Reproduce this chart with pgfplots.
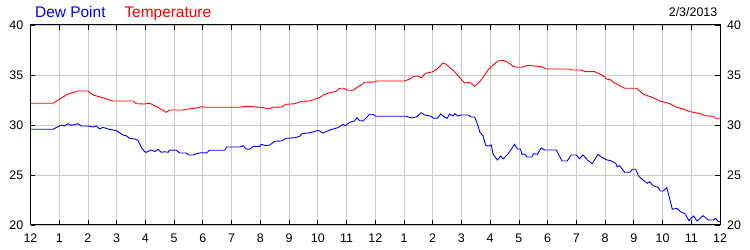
\documentclass[border=0pt]{standalone}
\usepackage{fontspec}
\setmainfont{Liberation Sans}
\usepackage{pgfplots}
\pgfplotsset{compat=1.18}
\definecolor{gridgray}{RGB}{204,204,204}
\definecolor{dewblue}{RGB}{0,0,255}
\definecolor{tempred}{RGB}{255,0,0}
\begin{document}
\begin{tikzpicture}
\begin{axis}[
  name=main,
  scale only axis,
  width=689.5bp, height=200bp,
  xmin=0, xmax=24, ymin=20, ymax=40,
  xtick={0,1,...,24},
  xticklabels={12,1,2,3,4,5,6,7,8,9,10,11,12,1,2,3,4,5,6,7,8,9,10,11,12},
  ytick={20,25,30,35,40},
  xtick pos=both, ytick pos=both,
  xticklabel pos=lower, yticklabel pos=left,
  tick align=inside,
  major tick length=5bp,
  tick style={black, line width=0.8bp},
  grid=major,
  major grid style={gridgray, line width=0.8bp},
  axis line style={black, line width=1bp},
  ticklabel style={font=\fontsize{12.5}{14}\selectfont},
  /pgf/number format/assume math mode=true,
  yticklabel style={inner sep=0pt, xshift=-7bp},
  xticklabel style={inner sep=0pt, yshift=-9bp},
  clip=true,
]
\addplot[tempred, line width=0.9bp] table {
0 32.17
0.78 32.17
0.96 32.5
1.31 33.1
1.65 33.4
2.0 33.4
2.18 33.0
2.58 32.67
2.87 32.4
3.57 32.4
3.68 32.13
3.97 32.1
4.15 32.17
4.32 31.93
4.55 31.57
4.73 31.27
4.84 31.5
5.31 31.5
5.48 31.6
5.71 31.67
5.95 31.83
6.12 31.77
7.28 31.77
7.40 31.83
7.74 31.83
7.98 31.77
8.09 31.73
8.27 31.6
8.44 31.77
8.73 31.8
8.90 32.07
9.20 32.13
9.43 32.37
9.72 32.4
9.89 32.57
10.07 32.77
10.24 33.07
10.41 33.23
10.64 33.37
10.76 33.67
10.91 33.67
11.03 33.47
11.23 33.47
11.40 33.83
11.57 34.1
11.61 34.27
11.98 34.3
12.04 34.4
13.02 34.4
13.20 34.6
13.34 34.87
13.51 34.87
13.60 34.73
13.75 35.17
14.01 35.33
14.18 35.67
14.36 36.2
14.47 36.07
14.65 35.6
14.76 35.33
14.94 34.73
15.11 34.2
15.29 34.27
15.46 33.87
15.64 34.33
15.81 35.0
15.92 35.5
16.0 35.7
16.10 36.0
16.27 36.4
16.45 36.47
16.62 36.27
16.79 35.87
16.91 35.77
17.08 35.77
17.32 35.97
17.55 35.9
17.78 35.83
17.95 35.6
18.77 35.6
18.82 35.5
19.17 35.5
19.29 35.33
19.64 35.33
19.81 35.1
19.99 34.83
20.04 34.6
20.18 34.53
20.33 34.2
20.51 33.93
20.68 33.67
21.09 33.67
21.20 33.4
21.34 33.07
21.67 32.73
21.90 32.4
22.13 32.23
22.30 32.07
22.46 31.8
22.71 31.6
22.97 31.33
23.35 31.1
23.47 30.93
23.76 30.87
23.85 30.67
24.0 30.67
};
\addplot[dewblue, line width=0.9bp] table {
0 29.57
0.78 29.57
0.96 29.83
1.07 30.0
1.19 29.9
1.31 30.13
1.42 29.97
1.65 30.13
1.77 29.9
2.0 29.9
2.18 29.8
2.29 29.9
2.41 29.6
2.52 29.77
2.70 29.6
2.99 29.43
3.10 29.23
3.22 29.0
3.33 28.93
3.45 28.67
3.63 28.6
3.74 28.47
3.86 27.73
3.97 27.33
4.03 27.27
4.21 27.5
4.32 27.33
4.44 27.57
4.55 27.27
4.67 27.33
4.79 27.27
4.84 27.5
5.08 27.47
5.19 27.2
5.42 27.2
5.51 27.0
5.66 27.0
5.77 27.13
5.95 27.23
6.12 27.2
6.24 27.47
6.76 27.47
6.82 27.8
7.28 27.8
7.40 27.93
7.51 27.6
7.63 27.57
7.74 27.83
7.86 27.87
7.98 27.85
8.03 28.07
8.21 27.93
8.33 28.0
8.50 28.37
8.73 28.4
8.90 28.67
9.20 28.73
9.37 28.87
9.45 29.13
9.66 29.2
9.83 29.3
10.01 29.47
10.18 29.2
10.36 29.43
10.53 29.6
10.70 29.73
10.88 30.07
10.96 29.93
11.11 30.27
11.28 30.4
11.36 30.73
11.46 30.43
11.57 30.4
11.69 30.73
11.81 31.07
11.92 31.07
12.02 30.87
13.08 30.87
13.25 30.7
13.43 30.8
13.60 31.23
13.72 31.0
13.95 30.87
14.01 30.7
14.16 30.67
14.28 31.1
14.42 30.77
14.50 30.67
14.59 31.1
14.71 30.9
14.76 31.13
14.88 30.9
14.99 31.0
15.23 31.0
15.34 30.8
15.46 30.8
15.58 29.9
15.64 29.27
15.75 28.93
15.84 28.0
15.90 27.9
15.98 27.93
16.04 28.0
16.10 27.1
16.25 26.5
16.37 26.9
16.45 26.6
16.62 27.1
16.85 28.07
16.94 27.6
17.05 27.6
17.11 27.07
17.20 27.1
17.29 26.8
17.45 26.8
17.51 27.13
17.64 27.07
17.78 27.7
17.90 27.5
18.30 27.5
18.50 26.4
18.68 26.4
18.82 27.0
19.0 27.0
19.11 26.63
19.23 27.0
19.40 26.47
19.55 26.13
19.75 27.07
19.92 26.7
19.99 26.6
20.04 26.53
20.22 26.4
20.37 26.17
20.42 25.83
20.51 25.93
20.62 25.5
20.68 25.27
20.86 25.27
20.95 25.57
21.06 25.57
21.18 24.83
21.32 24.5
21.47 24.17
21.55 24.33
21.67 23.93
21.84 23.77
21.92 23.4
22.02 23.4
22.15 23.73
22.25 22.6
22.34 21.57
22.50 21.67
22.62 21.33
22.77 21.17
22.92 20.43
23.00 20.67
23.08 20.9
23.20 20.4
23.41 20.93
23.59 20.5
23.76 20.5
23.85 20.67
23.94 20.33
24.0 20.33
};
\end{axis}
\begin{axis}[
  scale only axis,
  width=689.5bp, height=200bp,
  xmin=0, xmax=24, ymin=20, ymax=40,
  hide x axis,
  axis line style={draw=none},
  ytick={20,25,30,35,40},
  ytick pos=right, yticklabel pos=right,
  major tick length=0pt,
  ticklabel style={font=\fontsize{12.5}{14}\selectfont},
  /pgf/number format/assume math mode=true,
  yticklabel style={inner sep=0pt, xshift=7bp},
]
\end{axis}
\node[anchor=base west, inner sep=0pt, text=dewblue, font=\fontsize{15.5}{18}\selectfont] at ([shift={(4.5bp,8bp)}]main.north west) {Dew Point};
\node[anchor=base west, inner sep=0pt, text=tempred, font=\fontsize{15.5}{18}\selectfont] at ([shift={(93.8bp,8bp)}]main.north west) {Temperature};
\node[anchor=base east, inner sep=0pt, text=black, font=\fontsize{12.5}{14}\selectfont] at ([shift={(-2.5bp,8.3bp)}]main.north east) {2/3/2013};
\pgfresetboundingbox
\path ([shift={(-30.5bp,-25bp)}]main.south west) rectangle ([shift={(30bp,25bp)}]main.north east);
\end{tikzpicture}
\end{document}
